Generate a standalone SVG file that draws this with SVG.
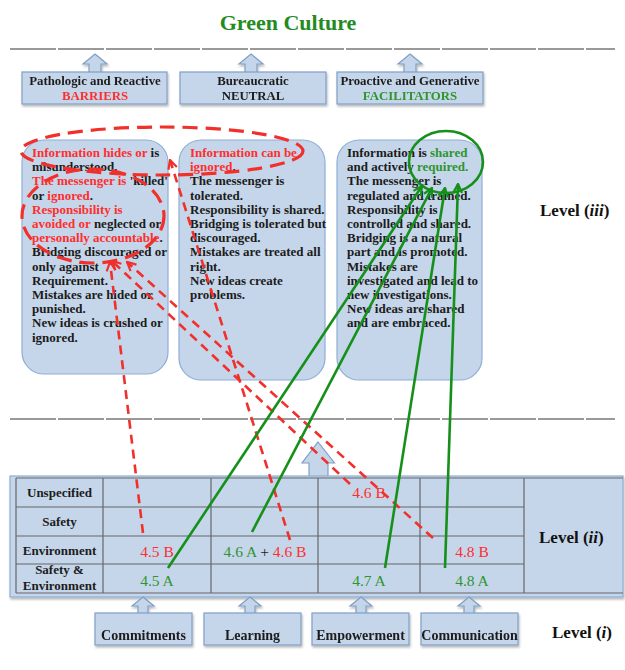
<svg xmlns="http://www.w3.org/2000/svg" width="625" height="670" viewBox="0 0 625 670">
<defs>
<style>
.t{font-family:"Liberation Serif","Times New Roman",serif;font-weight:bold;font-size:13px;fill:#1c1c1c}
.hd{font-size:12.8px;text-anchor:middle}
.lab{text-anchor:middle}
.v{font-family:"Liberation Serif","Times New Roman",serif;font-size:15.5px;text-anchor:middle}
.lvl{font-family:"Liberation Serif","Times New Roman",serif;font-weight:bold;font-size:17px;fill:#111}
.bt{font-size:14px;text-anchor:middle}
.r{fill:#ff2e2e}
.g{fill:#2e952e}
.k{fill:#1c1c1c}
.box{fill:#c5d6ea;stroke:#7f9fc6;stroke-width:1.2}
.rbox{fill:#c5d6ea;stroke:#8eaed6;stroke-width:1.2}
.arw{fill:#c5d6ea;stroke:#7f9fc6;stroke-width:1.2}
.sep{stroke:#999;stroke-width:2.2;stroke-dasharray:46 2;fill:none}
.grid{stroke:#666;stroke-width:1.2;fill:none}
.rd{stroke:#f2302b;stroke-width:2.6;stroke-dasharray:9 6;fill:none}
.re{stroke:#f2302b;stroke-width:3.2;stroke-dasharray:15 8;fill:none}
.gl{stroke:#16901a;stroke-width:2.6;fill:none}
</style>
<filter id="sh" x="-10%" y="-10%" width="125%" height="140%">
<feDropShadow dx="1" dy="2" stdDeviation="1.3" flood-color="#000" flood-opacity="0.28"/>
</filter>
<marker id="mr" viewBox="0 0 10 10" refX="9" refY="5" markerWidth="11" markerHeight="11" markerUnits="userSpaceOnUse" orient="auto">
<path d="M1,1 L9,5 L1,9" fill="none" stroke="#f2302b" stroke-width="2"/>
</marker>
<marker id="mg" viewBox="0 0 10 10" refX="9" refY="5" markerWidth="11" markerHeight="11" markerUnits="userSpaceOnUse" orient="auto">
<path d="M1,1 L9,5 L1,9" fill="none" stroke="#16901a" stroke-width="2"/>
</marker>
</defs>

<rect width="625" height="670" fill="#ffffff"/>

<g id="title">
<text x="288" y="30" text-anchor="middle" style="font-family:'Liberation Serif','Times New Roman',serif;font-weight:bold;font-size:22px;fill:#228b22">Green Culture</text>
</g>

<g id="separators">
<line class="sep" x1="10" y1="49" x2="615" y2="49"/>
<line class="sep" x1="10" y1="419" x2="615" y2="419"/>
</g>

<g id="barriers-header" filter="url(#sh)">
<path class="arw" d="M95,54 L107,64 L101,64 L101,73 L89,73 L89,64 L83,64 Z"/>
<rect class="box" x="22" y="72" width="145" height="32"/>
<text class="t hd" x="95" y="85">Pathologic and Reactive</text>
<text class="t hd r" x="95" y="100">BARRIERS</text>
</g>
<g id="neutral-header" filter="url(#sh)">
<path class="arw" d="M251,54 L263,64 L257,64 L257,73 L245,73 L245,64 L239,64 Z"/>
<rect class="box" x="180" y="72" width="146" height="32"/>
<text class="t hd" x="253" y="85">Bureaucratic</text>
<text class="t hd" x="253" y="100">NEUTRAL</text>
</g>
<g id="facilitators-header" filter="url(#sh)">
<path class="arw" d="M410,54 L422,64 L416,64 L416,73 L404,73 L404,64 L398,64 Z"/>
<rect class="box" x="337" y="72" width="146" height="32"/>
<text class="t hd" x="410" y="85">Proactive and Generative</text>
<text class="t hd g" x="410" y="100">FACILITATORS</text>
</g>

<g id="pathologic-box">
<rect class="rbox" x="22" y="140" width="146" height="234" rx="22"/>
<text class="t" x="32" y="157"><tspan class="r">Information hides or</tspan> is</text>
<text class="t" x="32" y="171.2">misunderstood.</text>
<text class="t" x="32" y="185.4"><tspan class="r">The messenger is</tspan> 'killed'</text>
<text class="t" x="32" y="199.6">or <tspan class="r">ignored</tspan>.</text>
<text class="t r" x="32" y="213.8">Responsibility is</text>
<text class="t" x="32" y="228"><tspan class="r">avoided or</tspan> neglected or</text>
<text class="t" x="32" y="242.2"><tspan class="r">personally accountable</tspan>.</text>
<text class="t" x="32" y="256.4">Bridging discouraged or</text>
<text class="t" x="32" y="270.6">only against</text>
<text class="t" x="32" y="284.8">Requirement.</text>
<text class="t" x="32" y="299">Mistakes are hided or</text>
<text class="t" x="32" y="313.2">punished.</text>
<text class="t" x="32" y="327.4">New ideas is crushed or</text>
<text class="t" x="32" y="341.6">ignored.</text>
</g>

<g id="bureaucratic-box">
<rect class="rbox" x="179" y="140" width="146" height="240" rx="22"/>
<text class="t r" x="190" y="157">Information can be</text>
<text class="t" x="190" y="171.2"><tspan class="r">ignored</tspan>.</text>
<text class="t" x="190" y="185.4">The messenger is</text>
<text class="t" x="190" y="199.6">tolerated.</text>
<text class="t" x="190" y="213.8">Responsibility is shared.</text>
<text class="t" x="190" y="228">Bridging is tolerated but</text>
<text class="t" x="190" y="242.2">discouraged.</text>
<text class="t" x="190" y="256.4">Mistakes are treated all</text>
<text class="t" x="190" y="270.6">right.</text>
<text class="t" x="190" y="284.8">New ideas create</text>
<text class="t" x="190" y="299">problems.</text>
</g>

<g id="generative-box">
<rect class="rbox" x="337" y="140" width="145" height="240" rx="22"/>
<text class="t" x="347" y="157">Information is <tspan class="g">shared</tspan></text>
<text class="t" x="347" y="171.2">and actively <tspan class="g">required.</tspan></text>
<text class="t" x="347" y="185.4">The messenger is</text>
<text class="t" x="347" y="199.6">regulated and trained.</text>
<text class="t" x="347" y="213.8">Responsibility is</text>
<text class="t" x="347" y="228">controlled and shared.</text>
<text class="t" x="347" y="242.2">Bridging is a natural</text>
<text class="t" x="347" y="256.4">part and is promoted.</text>
<text class="t" x="347" y="270.6">Mistakes are</text>
<text class="t" x="347" y="284.8">investigated and lead to</text>
<text class="t" x="347" y="299">new investigations.</text>
<text class="t" x="347" y="313.2">New ideas are shared</text>
<text class="t" x="347" y="327.4">and are embraced.</text>
</g>

<g id="level-iii">
<text class="lvl" x="540" y="216">Level (<tspan font-style="italic">iii</tspan>)</text>
</g>

<g id="middle-arrow">
<path class="arw" d="M318,442 L334.5,463 L328,463 L328,479 L309,479 L309,463 L302,463 Z"/>
</g>

<g id="table">
<rect x="10" y="476" width="613" height="121" fill="#c5d6ea" stroke="#8eaed6" stroke-width="1.2" filter="url(#sh)"/>
<path class="grid" d="M16,478 H623 M16,593 H623 M16,507 H524 M16,536 H524 M16,564 H524 M16,478 V593 M103,478 V593 M211,478 V593 M318,478 V593 M420,478 V593 M524,478 V593"/>
<text class="t lab" x="59.5" y="497">Unspecified</text>
<text class="t lab" x="59.5" y="526">Safety</text>
<text class="t lab" x="59.5" y="555">Environment</text>
<text class="t lab" x="59.5" y="574">Safety &amp;</text>
<text class="t lab" x="59.5" y="590">Environment</text>
<text class="v r" x="157" y="557">4.5 B</text>
<text class="v g" x="157" y="586">4.5 A</text>
<text class="v" x="265" y="557"><tspan class="g">4.6 A</tspan><tspan class="k"> + </tspan><tspan class="r">4.6 B</tspan></text>
<text class="v r" x="369" y="498">4.6 B</text>
<text class="v g" x="369" y="586">4.7 A</text>
<text class="v r" x="472" y="557">4.8 B</text>
<text class="v g" x="472" y="586">4.8 A</text>
<text class="lvl" x="539" y="543">Level (<tspan font-style="italic">ii</tspan>)</text>
</g>

<g id="commitments" filter="url(#sh)">
<path class="arw" d="M143,597 L154,606 L148,606 L148,614 L138,614 L138,606 L132,606 Z"/>
<rect class="box" x="95" y="613" width="97" height="32"/>
<text class="t bt" x="143.5" y="640">Commitments</text>
</g>
<g id="learning" filter="url(#sh)">
<path class="arw" d="M250,597 L261,606 L255,606 L255,614 L245,614 L245,606 L239,606 Z"/>
<rect class="box" x="204" y="613" width="97" height="32"/>
<text class="t bt" x="252.5" y="640">Learning</text>
</g>
<g id="empowerment" filter="url(#sh)">
<path class="arw" d="M361,597 L372,606 L366,606 L366,614 L356,614 L356,606 L350,606 Z"/>
<rect class="box" x="312" y="613" width="97" height="32"/>
<text class="t bt" x="360.5" y="640">Empowerment</text>
</g>
<g id="communication" filter="url(#sh)">
<path class="arw" d="M469,597 L480,606 L474,606 L474,614 L464,614 L464,606 L458,606 Z"/>
<rect class="box" x="421" y="613" width="97" height="32"/>
<text class="t bt" x="469.5" y="640">Communication</text>
</g>
<g id="level-i">
<text class="lvl" x="552" y="638">Level (<tspan font-style="italic">i</tspan>)</text>
</g>

<g id="connectors">
<ellipse class="re" cx="162" cy="151" rx="141" ry="24"/>
<ellipse class="re" cx="93" cy="216" rx="71" ry="47"/>
<ellipse cx="446" cy="162" rx="37" ry="31" fill="none" stroke="#16901a" stroke-width="2.6"/>
<line class="rd" x1="143" y1="533" x2="110" y2="262" marker-end="url(#mr)"/>
<line class="rd" x1="350" y1="484" x2="112" y2="261" marker-end="url(#mr)"/>
<line class="rd" x1="433" y1="538" x2="127" y2="262" marker-end="url(#mr)"/>
<line class="rd" x1="290" y1="540" x2="170" y2="160" marker-end="url(#mr)"/>
<line class="gl" x1="168" y1="568" x2="422" y2="186" marker-end="url(#mg)"/>
<line class="gl" x1="252" y1="532" x2="432" y2="188" marker-end="url(#mg)"/>
<line class="gl" x1="385" y1="568" x2="445" y2="188" marker-end="url(#mg)"/>
<line class="gl" x1="445" y1="568" x2="458" y2="184" marker-end="url(#mg)"/>
</g>
</svg>
